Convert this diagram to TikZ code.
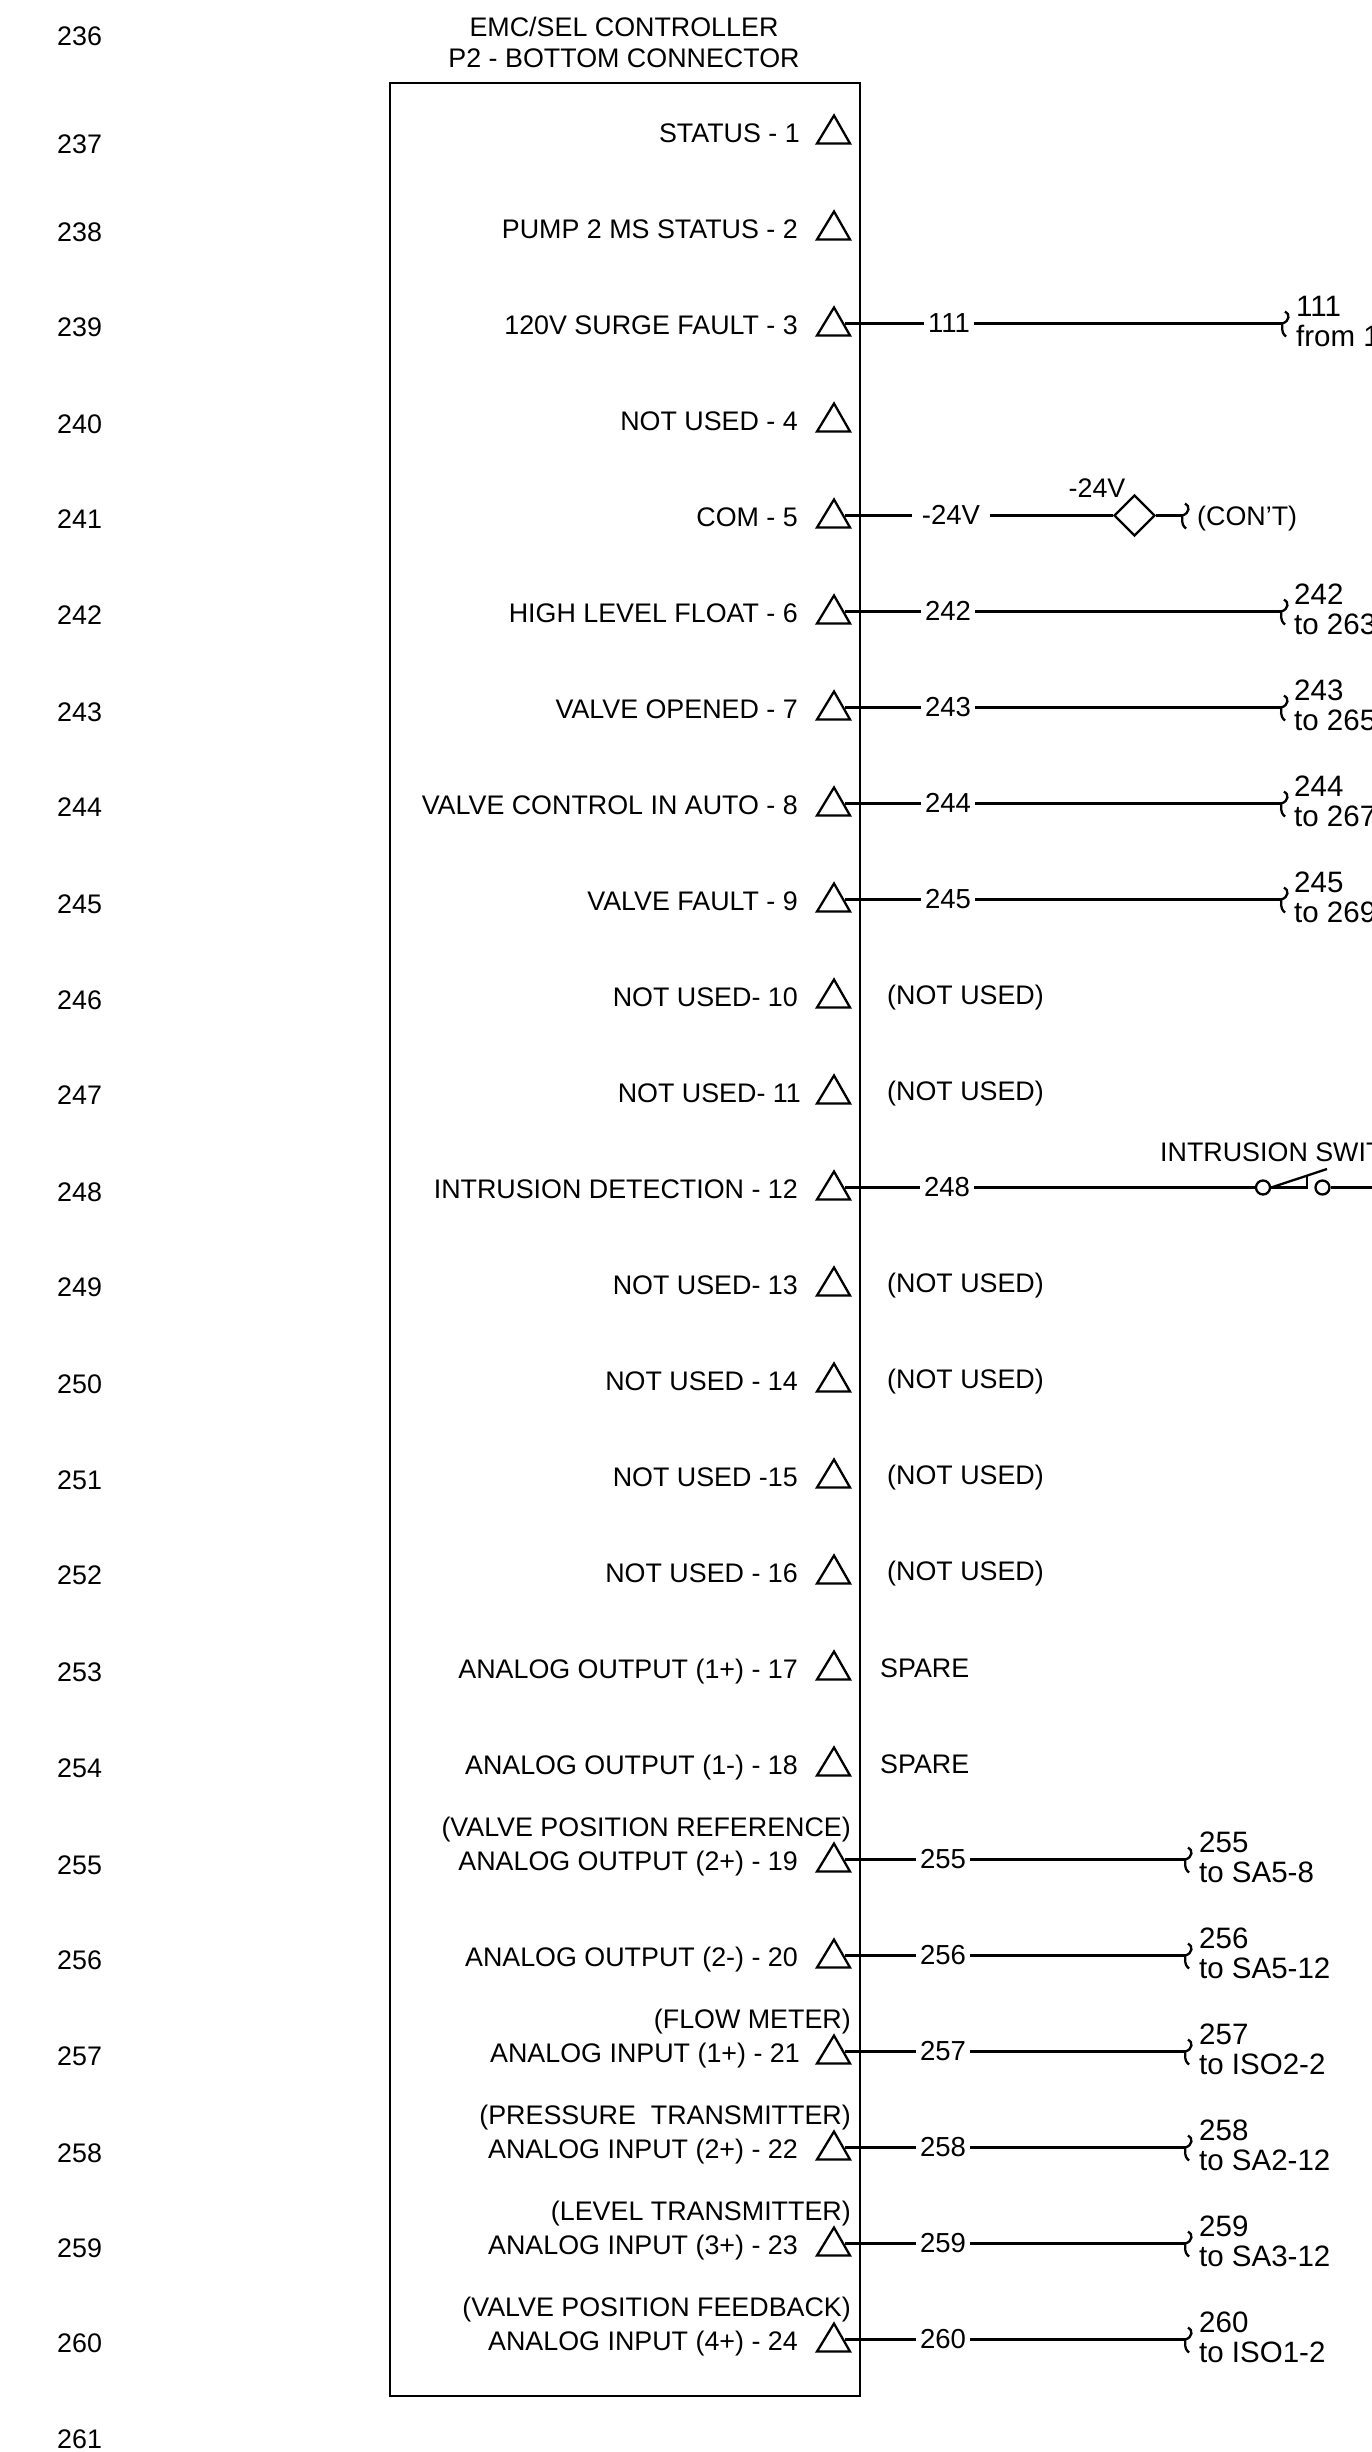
\documentclass[tikz,border=0pt]{standalone}
\usepackage{fontspec}
\setmainfont{Liberation Sans}
\usetikzlibrary{shapes.geometric,calc}
\tikzset{
  txt/.style={inner sep=0pt,font=\fontsize{26.85}{30}\selectfont},
  rowno/.style={txt,anchor=base west},
  lbl/.style={txt,anchor=base east},
  lft/.style={txt,anchor=base west},
  endtxt/.style={lft,font=\fontsize{29.5}{32}\selectfont},
  mid/.style={txt,anchor=base},
  wirelabel/.style={txt,font=\fontsize{27.5}{30}\selectfont,inner xsep=4pt,inner ysep=0pt,text height=19pt,text depth=2pt,anchor=center},
  wire/.style={line width=2.3pt},
  sym/.style={line width=2.3pt},
  pinmark/.style={line width=2.3pt,line join=miter},
  swcontact/.style={circle,draw,line width=2.3pt,fill=white,inner sep=0pt,minimum size=14pt},
  junction/.style={diamond,draw,line width=2.3pt,inner sep=0pt,minimum size=41pt,fill=white}
}
% pin triangle, its label; #1 id, #2 y, #3 label, #4 right end
\newcommand{\pinrow}[4]{%
  \draw[pinmark] (817,#2+12) -- (834,#2-16) -- (850,#2+12) -- cycle;
  \coordinate (p#1) at (845,#2);
  \node[lbl] (t#1) at (#4,#2+10.5) {#3};
}
% squiggle; #1 coordinate name of its middle, #2 x, #3 y
\newcommand{\squig}[3]{%
  \coordinate (#1) at (#2,#3);
  \draw[sym] (#2+3,#3-12) .. controls (#2+8,#3-10) and (#2+8,#3-2) .. (#2,#3)
     .. controls (#2+1,#3+3) and (#2-2,#3+8) .. (#2+4,#3+13);
}
% wire row: #1 id, #2 y, #3 wire label, #4 label x, #5 squiggle x, #6 text x, #7 first line, #8 second line
\newcommand{\wirerow}[8]{%
  \node[wirelabel] (w#1) at (#4,#2) {#3};
  \squig{e#1}{#5}{#2}
  \draw[wire] (p#1) -- (w#1.west) (w#1.east) -- (e#1);
  \node[endtxt] (a#1) at (#6,#2-7) {#7};
  \node[endtxt] (b#1) at (#6,#2+23) {#8};
}
\begin{document}
\begin{tikzpicture}[x=1pt,y=-1pt]
\useasboundingbox (0,0) rectangle (1372,2452);
\clip (0,0) rectangle (1372,2452);
\fill[white] (0,0) rectangle (1372,2452);
% row numbers
\foreach \n/\y in {236/36,237/144,238/232,239/327,240/424,241/519,242/615,243/712,244/807,245/904,246/1000,247/1095,248/1192,249/1287,250/1384,251/1480,252/1575,253/1672,254/1768,255/1865,256/1960,257/2056,258/2153,259/2248,260/2343,261/2439}
  \node[rowno] (r\n) at (57,\y+9.5) {\n};
% title
\node[mid] (title1) at (624,36) {EMC/SEL CONTROLLER};
\node[mid] (title2) at (624,67) {P2 - BOTTOM CONNECTOR};
% controller box
\node[draw,line width=2.3pt,inner sep=0pt,minimum width=470pt,minimum height=2313pt] (box) at (625,1239.5) {};
% pins
\pinrow{1}{131.5}{STATUS - 1}{800}
\pinrow{2}{227.5}{PUMP 2 MS STATUS - 2}{798}
\pinrow{3}{323.5}{120V SURGE FAULT - 3}{798}
\pinrow{4}{419.5}{NOT USED - 4}{798}
\pinrow{5}{515.5}{COM - 5}{798}
\pinrow{6}{611.5}{HIGH LEVEL FLOAT - 6}{798}
\pinrow{7}{707.5}{VALVE OPENED - 7}{798}
\pinrow{8}{803.5}{VALVE CONTROL IN AUTO - 8}{798}
\pinrow{9}{899.5}{VALVE FAULT - 9}{798}
\pinrow{10}{995.5}{NOT USED- 10}{798}
\pinrow{11}{1091.5}{NOT USED- 11}{801}
\pinrow{12}{1187.5}{INTRUSION DETECTION - 12}{798}
\pinrow{13}{1283.5}{NOT USED- 13}{798}
\pinrow{14}{1379.5}{NOT USED - 14}{798}
\pinrow{15}{1475.5}{NOT USED -15}{798}
\pinrow{16}{1571.5}{NOT USED - 16}{798}
\pinrow{17}{1667.5}{ANALOG OUTPUT (1+) - 17}{798}
\pinrow{18}{1763.5}{ANALOG OUTPUT (1-) - 18}{798}
\pinrow{19}{1859.5}{ANALOG OUTPUT (2+) - 19}{798}
\pinrow{20}{1955.5}{ANALOG OUTPUT (2-) - 20}{798}
\pinrow{21}{2051.5}{ANALOG INPUT (1+) - 21}{800}
\pinrow{22}{2147.5}{ANALOG INPUT (2+) - 22}{798}
\pinrow{23}{2243.5}{ANALOG INPUT (3+) - 23}{798}
\pinrow{24}{2339.5}{ANALOG INPUT (4+) - 24}{798}
% second-line captions
\node[lbl] (c19) at (851,1836) {(VALVE POSITION REFERENCE)};
\node[lbl] (c21) at (851,2028) {(FLOW METER)};
\node[lbl] (c22) at (851,2124) {(PRESSURE\ \ TRANSMITTER)};
\node[lbl] (c23) at (851,2220) {(LEVEL TRANSMITTER)};
\node[lbl] (c24) at (851,2316) {(VALVE POSITION FEEDBACK)};
% upper wires
\wirerow{3}{323.5}{111}{949}{1282}{1296}{111}{from 1}
\wirerow{6}{611.5}{242}{948}{1281}{1294}{242}{to 263}
\wirerow{7}{707.5}{243}{948}{1281}{1294}{243}{to 265}
\wirerow{8}{803.5}{244}{948}{1281}{1294}{244}{to 267}
\wirerow{9}{899.5}{245}{948}{1281}{1294}{245}{to 269}
% -24V
\node[wirelabel,inner xsep=10pt] (w5) at (951,515.5) {-24V};
\node[junction] (j5) at (1134.5,515.5) {};
\squig{e5}{1182}{515.5}
\draw[wire] (p5) -- (w5.west) (w5.east) -- (j5.west) (j5.east) -- (e5);
\node[mid] (v5) at (1097,497.5) {-24V};
\node[lft] (cont) at (1197,525) {(CON'T)};
% not used / spare
\foreach \i/\y in {10/995.5,11/1091.5,13/1283.5,14/1379.5,15/1475.5,16/1571.5}
  \node[lft] (n\i) at (887,\y+9) {(NOT USED)};
\node[lft] (s17) at (880,1677) {SPARE};
\node[lft] (s18) at (880,1773) {SPARE};
% intrusion switch
\node[wirelabel] (w12) at (947,1187.5) {248};
\node[swcontact] (sw1) at (1263,1187.5) {};
\node[swcontact] (sw2) at (1322.5,1187.5) {};
\coordinate (swend) at (1372,1187.5);
\draw[wire] (p12) -- (w12.west) (w12.east) -- (sw1.west) (sw2.east) -- (swend);
\draw[sym] (sw1.east) -- (1327,1169);
\draw[sym,line join=miter] (sw1.east) -- (1307,1187.5) -- (1307,1175);
\node[lft] (swlabel) at (1160,1161.5) {INTRUSION SWIT};
% lower wires
\wirerow{19}{1859.5}{255}{943}{1185}{1199}{255}{to SA5-8}
\wirerow{20}{1955.5}{256}{943}{1185}{1199}{256}{to SA5-12}
\wirerow{21}{2051.5}{257}{943}{1185}{1199}{257}{to ISO2-2}
\wirerow{22}{2147.5}{258}{943}{1185}{1199}{258}{to SA2-12}
\wirerow{23}{2243.5}{259}{943}{1185}{1199}{259}{to SA3-12}
\wirerow{24}{2339.5}{260}{943}{1185}{1199}{260}{to ISO1-2}
\end{tikzpicture}
\end{document}
